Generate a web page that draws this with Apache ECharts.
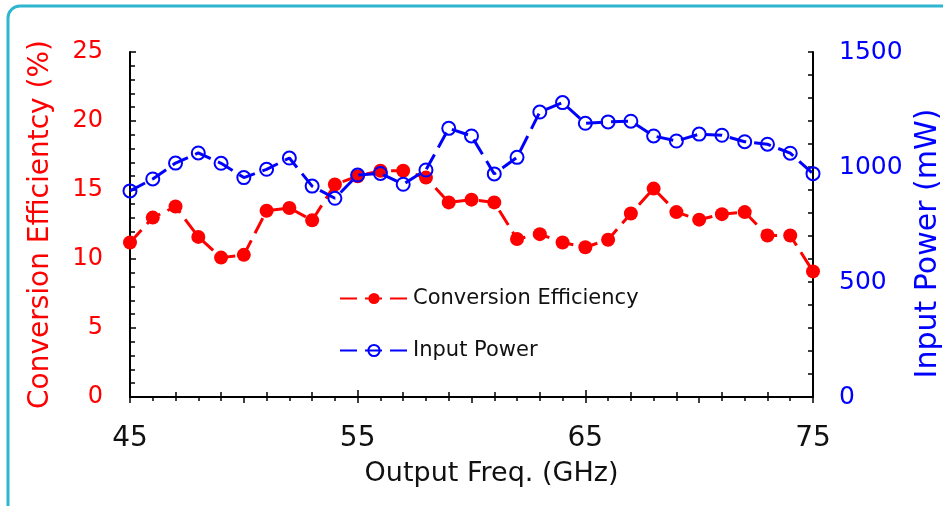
<!DOCTYPE html>
<html>
<head>
<meta charset="utf-8">
<script src="https://cdn.jsdelivr.net/npm/echarts@6/dist/echarts.min.js"></script>
<style>
html,body{margin:0;padding:0;background:#fff;}
#c{width:943px;height:506px;}
</style>
</head>
<body>
<div id="c"></div>
<script>
var freq = [45,46,47,48,49,50,51,52,53,54,55,56,57,58,59,60,61,62,63,64,65,66,67,68,69,70,71,72,73,74,75];
var efficiency = [11.2,13.0,13.8,11.6,10.1,10.3,13.5,13.7,12.8,15.4,16.0,16.4,16.4,15.9,14.1,14.3,14.1,11.45,11.8,11.2,10.85,11.4,13.3,15.1,13.4,12.85,13.25,13.4,11.7,11.7,9.1];
var inputPower = [896,948,1017,1061,1016,954,990,1039,917,864,965,972,925,987,1168,1135,970,1042,1239,1280,1190,1196,1199,1135,1113,1143,1138,1110,1099,1060,971];
var xTickLabels = ['45','55','65','75'];
var seriesNames = ['Conversion Efficiency','Input Power'];

var FONT = 'DejaVu Sans';
var chart = echarts.init(document.getElementById('c'));

function pairs(ys){ return freq.map(function(f,i){ return [f, ys[i]]; }); }
function plain(v){ return String(v); }

var tickStyle = {color: '#000', width: 1.5};

chart.setOption({
  animation: false,
  backgroundColor: '#fff',
  graphic: [{
    type: 'rect',
    shape: {x: 8, y: 6, width: 980, height: 560, r: 12},
    style: {fill: 'none', stroke: '#2EB6D1', lineWidth: 3},
    silent: true
  }],
  grid: {left: 130, right: 130, top: 52, bottom: 109, containLabel: false, outerBoundsMode: 'none'},
  legend: [{
    data: [seriesNames[0]],
    left: 334, top: 283,
    itemWidth: 68, itemHeight: 14, itemGap: 8,
    textStyle: {fontFamily: FONT, fontSize: 21, color: '#111'}
  },{
    data: [seriesNames[1]],
    left: 334, top: 335,
    itemWidth: 68, itemHeight: 14, itemGap: 8,
    textStyle: {fontFamily: FONT, fontSize: 21, color: '#111'}
  }],
  xAxis: [{
    type: 'value', position: 'bottom',
    min: 45, max: 75, interval: 10,
    name: 'Output Freq. (GHz)', nameLocation: 'middle', nameGap: 63,
    nameTextStyle: {fontFamily: FONT, fontSize: 27, color: '#111', padding: [0, 0, 0, 40]},
    axisLine: {lineStyle: {color: '#000', width: 2}},
    axisTick: {inside: false, length: -7, lineStyle: tickStyle},
    minorTick: {show: true, splitNumber: 5, length: -5, lineStyle: tickStyle},
    splitLine: {show: false},
    axisLabel: {fontFamily: FONT, fontSize: 28, color: '#111', margin: 28,
      formatter: function(v){ var s = String(v); return xTickLabels.indexOf(s) >= 0 ? s : ''; }}
  },{
    type: 'value', position: 'top',
    min: 45, max: 75, interval: 5,
    axisLine: {show: true, lineStyle: {color: '#000', width: 2}},
    axisTick: {inside: false, length: -6, lineStyle: tickStyle},
    minorTick: {show: true, splitNumber: 5, length: -4, lineStyle: tickStyle},
    splitLine: {show: false},
    axisLabel: {show: false}
  }],
  yAxis: [{
    type: 'value', position: 'left',
    min: 0, max: 25, interval: 5,
    name: 'Conversion Efficientcy (%)', nameLocation: 'middle', nameGap: 75,
    nameTextStyle: {fontFamily: FONT, fontSize: 28, color: '#FF0000'},
    axisLine: {show: true, lineStyle: {color: '#000', width: 2}},
    axisTick: {inside: false, length: -6, lineStyle: tickStyle},
    minorTick: {show: true, splitNumber: 5, length: -5, lineStyle: tickStyle},
    splitLine: {show: false},
    axisLabel: {fontFamily: FONT, fontSize: 24, color: '#FF0000', margin: 27, formatter: plain}
  },{
    type: 'value', position: 'right',
    min: 0, max: 1500, interval: 500,
    name: 'Input Power (mW)', nameLocation: 'middle', nameGap: 94,
    nameTextStyle: {fontFamily: FONT, fontSize: 30, color: '#0000FF', padding: [0, 38, 0, 0]},
    axisLine: {show: true, lineStyle: {color: '#000', width: 2}},
    axisTick: {inside: false, length: -5, lineStyle: tickStyle},
    minorTick: {show: true, splitNumber: 5, length: -5, lineStyle: tickStyle},
    splitLine: {show: false},
    axisLabel: {fontFamily: FONT, fontSize: 25, color: '#0000FF', margin: 26, formatter: plain}
  }],
  series: [{
    name: seriesNames[0], type: 'line',
    xAxisIndex: 0, yAxisIndex: 0,
    data: pairs(efficiency),
    symbol: 'circle', symbolSize: 14,
    itemStyle: {color: '#FF0000'},
    lineStyle: {color: '#FF0000', width: 3, type: [17, 8]},
    z: 2
  },{
    name: seriesNames[1], type: 'line',
    xAxisIndex: 0, yAxisIndex: 1,
    data: pairs(inputPower),
    symbol: 'circle', symbolSize: 13,
    itemStyle: {color: 'rgba(255,255,255,0)', borderColor: '#0000FF', borderWidth: 2},
    lineStyle: {color: '#0000FF', width: 3, type: [17, 8]},
    z: 3
  }]
});
</script>
</body>
</html>
